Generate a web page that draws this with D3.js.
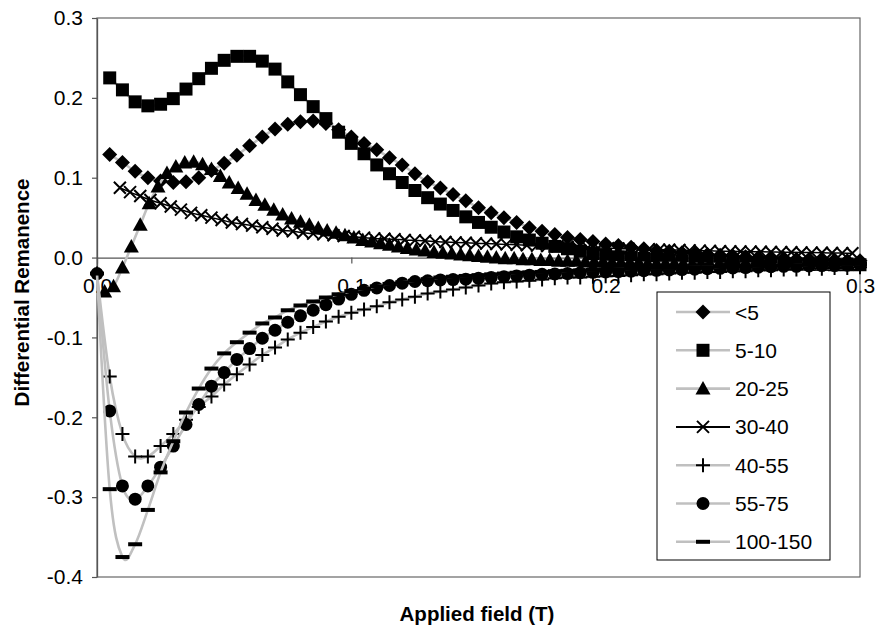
<!DOCTYPE html>
<html>
<head>
<meta charset="UTF-8">
<title>Differential Remanence</title>
<script src="https://d3js.org/d3.v7.min.js"></script>
<style>
  * { margin: 0; padding: 0; box-sizing: border-box; }
  body { background: #fff; font-family: "Liberation Sans", Arial, sans-serif; }
  svg text { font-family: "Liberation Sans", Arial, sans-serif; fill: #000; }
</style>
</head>
<body>
<div id="chart"></div>
<script>
// legend / series names
const seriesNames = ["<5", "5-10", "20-25", "30-40", "40-55", "55-75", "100-150"];

// applied field values (T)
const fieldA = [0,0.005,0.01,0.015,0.02,0.025,0.03,0.035,0.04,0.045,0.05,0.055,0.06,0.065,0.07,0.075,0.08,0.085,0.09,0.095,
  0.1,0.105,0.11,0.115,0.12,0.125,0.13,0.135,0.14,0.145,0.15,0.155,0.16,0.165,0.17,0.175,0.18,0.185,0.19,0.195,
  0.2,0.205,0.21,0.215,0.22,0.225,0.23,0.235,0.24,0.245,0.25,0.255,0.26,0.265,0.27,0.275,0.28,0.285,0.29,0.295,0.3];
const fieldB = [0.003,0.0065,0.01,0.0135,0.017,0.0205,0.024,0.0275,0.031,0.0345,0.038,0.0415,0.045,0.0485,0.052,0.0555,
  0.059,0.0625,0.066,0.0695,0.073,0.0765,0.08,0.0835,0.087,0.0905,0.094,0.0975,0.101,0.1045,0.108,0.1115,0.115,0.1185,
  0.122,0.1255,0.129,0.1325,0.136,0.1395,0.143,0.1465,0.15,0.1535,0.157,0.1605,0.164,0.1675,0.171,0.1745,0.178,0.1815,
  0.185,0.1885,0.192,0.1955,0.199,0.2025,0.206,0.2095,0.213,0.2165,0.22,0.2235,0.227,0.2305,0.234,0.2375,0.241,0.2445,
  0.248,0.2515,0.255,0.2585,0.262,0.2655,0.269,0.2725,0.276,0.2795,0.283,0.2865,0.29,0.2935,0.297];
const fieldC = [0.009,0.013,0.017,0.021,0.025,0.029,0.033,0.037,0.041,0.045,0.049,0.053,0.057,0.061,0.065,0.069,0.073,
  0.077,0.081,0.085,0.089,0.093,0.097,0.101,0.105,0.109,0.113,0.117,0.121,0.125,0.129,0.133,0.137,0.141,0.145,0.149,
  0.153,0.157,0.161,0.165,0.169,0.173,0.177,0.181,0.185,0.189,0.193,0.197,0.201,0.205,0.209,0.213,0.217,0.221,0.225,
  0.229,0.233,0.237,0.241,0.245,0.249,0.253,0.257,0.261,0.265,0.269,0.273,0.277,0.281,0.285,0.289,0.293,0.297];

// differential remanence per series
const valsLt5 = [0.129,0.119,0.108,0.100,0.096,0.094,0.095,0.100,0.109,0.118,
  0.128,0.140,0.151,0.161,0.167,0.170,0.171,0.168,0.160,0.151,
  0.143,0.135,0.125,0.116,0.105,0.095,0.087,0.079,0.071,0.0625,
  0.056,0.050,0.044,0.0375,0.033,0.029,0.025,0.0225,0.020,0.017,
  0.015,0.013,0.011,0.009,0.008,0.006,0.005,0.004,0.003,0.002,
  0.001,0.0,0.0,-0.001,-0.002,-0.002,-0.003,-0.003,-0.004,-0.004];
const vals5to10 = [0.225,0.210,0.195,0.190,0.192,0.199,0.211,0.224,0.237,0.247,
  0.252,0.252,0.246,0.236,0.220,0.204,0.189,0.174,0.157,0.143,
  0.130,0.116,0.105,0.094,0.084,0.075,0.067,0.059,0.051,0.044,
  0.038,0.032,0.026,0.022,0.018,0.014,0.011,0.008,0.005,0.003,
  0.001,0.0,-0.001,-0.002,-0.003,-0.004,-0.004,-0.005,-0.005,-0.006,
  -0.006,-0.007,-0.007,-0.007,-0.008,-0.008,-0.008,-0.009,-0.009,-0.009];
const vals20to25 = [-0.0425,-0.036,-0.0125,0.014,0.041,0.068,0.089,0.106,0.114,0.119,
  0.120,0.117,0.111,0.102,0.094,0.087,0.080,0.072,0.066,0.060,
  0.054,0.049,0.045,0.041,0.037,0.034,0.031,0.028,0.025,0.022,
  0.020,0.018,0.016,0.014,0.012,0.010,0.009,0.007,0.006,0.005,
  0.004,0.003,0.002,0.001,0.0,-0.001,-0.001,-0.002,-0.002,-0.003,
  -0.003,-0.004,-0.004,-0.004,-0.005,-0.005,-0.005,-0.006,-0.006,-0.006,
  -0.006,-0.007,-0.007,-0.007,-0.007,-0.007,-0.008,-0.008,-0.008,-0.008,
  -0.008,-0.008,-0.008,-0.008,-0.009,-0.009,-0.009,-0.009,-0.009,-0.009,
  -0.009,-0.009,-0.009,-0.009,-0.009];
const vals30to40 = [0.0875,0.082,0.077,0.072,0.068,0.064,0.060,0.056,0.053,0.050,
  0.047,0.044,0.042,0.040,0.038,0.036,0.034,0.033,0.031,0.030,
  0.029,0.028,0.027,0.026,0.025,0.024,0.0235,0.023,0.022,0.0215,
  0.021,0.020,0.0195,0.019,0.0185,0.018,0.0175,0.017,0.0165,0.016,
  0.0155,0.015,0.0145,0.014,0.0135,0.013,0.0125,0.012,0.0117,0.0114,
  0.011,0.0107,0.0104,0.010,0.0097,0.0094,0.009,0.0087,0.0084,0.008,
  0.0078,0.0076,0.0074,0.0072,0.007,0.0068,0.0066,0.0064,0.0062,0.006,
  0.0058,0.0056,0.0055];
const vals40to55 = [-0.02,-0.149,-0.221,-0.249,-0.249,-0.236,-0.221,-0.203,-0.187,-0.174,-0.159,
  -0.146,-0.134,-0.122,-0.1125,-0.1025,-0.094,-0.087,-0.080,-0.074,-0.069,
  -0.065,-0.061,-0.056,-0.0525,-0.049,-0.045,-0.0425,-0.040,-0.0375,-0.035,
  -0.0325,-0.031,-0.030,-0.029,-0.0275,-0.026,-0.025,-0.025,-0.024,-0.0235,
  -0.023,-0.022,-0.021,-0.021,-0.020,-0.019,-0.019,-0.018,-0.018,-0.017,
  -0.017,-0.016,-0.016,-0.015,-0.015,-0.014,-0.014,-0.013,-0.013,-0.012];
const vals55to75 = [-0.02,-0.192,-0.286,-0.3025,-0.286,-0.2625,-0.236,-0.209,-0.184,-0.161,-0.144,
  -0.1275,-0.114,-0.101,-0.091,-0.081,-0.073,-0.066,-0.059,-0.052,-0.046,
  -0.041,-0.038,-0.035,-0.032,-0.030,-0.029,-0.028,-0.0275,-0.027,-0.026,
  -0.025,-0.024,-0.023,-0.022,-0.021,-0.0205,-0.020,-0.019,-0.0185,-0.018,
  -0.0175,-0.017,-0.0165,-0.016,-0.0155,-0.015,-0.0145,-0.014,-0.0135,-0.013,
  -0.0125,-0.012,-0.0115,-0.011,-0.011,-0.0105,-0.010,-0.010,-0.0095,-0.009];
const vals100to150 = [-0.02,-0.29,-0.375,-0.359,-0.316,-0.269,-0.230,-0.194,-0.164,-0.139,-0.120,
  -0.106,-0.094,-0.0825,-0.075,-0.066,-0.060,-0.055,-0.050,-0.046,-0.042,
  -0.039,-0.036,-0.033,-0.031,-0.029,-0.027,-0.025,-0.024,-0.023,-0.022,
  -0.021,-0.020,-0.019,-0.0185,-0.018,-0.017,-0.0165,-0.016,-0.0155,-0.015,
  -0.0145,-0.014,-0.0135,-0.013,-0.013,-0.0125,-0.012,-0.012,-0.0115,-0.011,
  -0.011,-0.0105,-0.010,-0.010,-0.0095,-0.009,-0.009,-0.0085,-0.008,-0.008];

// axis ticks
const xTicks = [0, 0.1, 0.2, 0.3];
const xTickLabels = ["0.0", "0.1", "0.2", "0.3"];
const yTicks = [0.3, 0.2, 0.1, 0, -0.1, -0.2, -0.3, -0.4];
const yTickLabels = ["0.3", "0.2", "0.1", "0.0", "-0.1", "-0.2", "-0.3", "-0.4"];

function zip(fields, vals) {
  if (fields.length !== vals.length) console.error("length mismatch", fields.length, vals.length);
  return vals.map((v, i) => ({ x: fields[i], y: v }));
}

const series = [
  { name: seriesNames[0], shape: "diamond",  line: "#c0c0c0", data: zip(fieldA.slice(1), valsLt5) },
  { name: seriesNames[1], shape: "square",   line: "#c0c0c0", data: zip(fieldA.slice(1), vals5to10) },
  { name: seriesNames[2], shape: "triangle", line: "#c0c0c0", data: zip(fieldB, vals20to25) },
  { name: seriesNames[3], shape: "cross",    line: "#000",    data: zip(fieldC, vals30to40) },
  { name: seriesNames[4], shape: "plus",     line: "#c0c0c0", data: zip(fieldA, vals40to55) },
  { name: seriesNames[5], shape: "circle",   line: "#c0c0c0", data: zip(fieldA, vals55to75) },
  { name: seriesNames[6], shape: "dash",     line: "#c0c0c0", data: zip(fieldA, vals100to150) }
];

const W = 875, H = 628;
const plot = { left: 97, right: 860, top: 18, bottom: 577 };

const svg = d3.select("#chart").append("svg")
  .attr("width", W).attr("height", H);

const x = d3.scaleLinear().domain([0, 0.3]).range([plot.left, plot.right]);
const y = d3.scaleLinear().domain([-0.4, 0.3]).range([plot.bottom, plot.top]);

// plot area frame
svg.append("rect")
  .attr("x", plot.left).attr("y", plot.top)
  .attr("width", plot.right - plot.left).attr("height", plot.bottom - plot.top)
  .attr("fill", "none").attr("stroke", "#666").attr("stroke-width", 1.2);

// y axis
const yAxis = svg.append("g")
  .attr("transform", `translate(${plot.left},0)`)
  .call(d3.axisLeft(y).tickValues(yTicks).tickSize(5).tickSizeOuter(0).tickPadding(9)
    .tickFormat((d, i) => yTickLabels[i]));
yAxis.selectAll("text").style("font-size", "21px");

// x axis along zero
const xAxis = svg.append("g")
  .attr("transform", `translate(0,${y(0)})`)
  .call(d3.axisBottom(x).tickValues(xTicks).tickSize(6).tickSizeOuter(0).tickPadding(15)
    .tickFormat((d, i) => xTickLabels[i]));
xAxis.selectAll("text").style("font-size", "21px");

[yAxis, xAxis].forEach(a => {
  a.select(".domain").attr("stroke", "#555").attr("stroke-width", 1.3);
  a.selectAll(".tick line").attr("stroke", "#555").attr("stroke-width", 1.2);
});

// axis titles
svg.append("text")
  .attr("transform", `translate(29,${(plot.top + plot.bottom) / 2 - 5}) rotate(-90)`)
  .attr("text-anchor", "middle")
  .style("font-size", "20.5px").style("font-weight", "bold")
  .text("Differential Remanence");

svg.append("text")
  .attr("x", 477).attr("y", 621)
  .attr("text-anchor", "middle")
  .style("font-size", "20.5px").style("font-weight", "bold")
  .text("Applied field (T)");

// marker shapes
const shapes = {
  diamond: "M0,-7.5L7.5,0L0,7.5L-7.5,0Z",
  square: "M-6.5,-6.5H6.5V6.5H-6.5Z",
  triangle: "M0,-7.5L7.5,6L-7.5,6Z",
  circle: d3.symbol(d3.symbolCircle, Math.PI * 6.5 * 6.5)(),
  cross: "M-6,-6L6,6M6,-6L-6,6",
  plus: "M-7,0H7M0,-7V7",
  dash: "M-7,-2H7V2H-7Z"
};
function drawMarker(g, shape) {
  const stroked = shape === "cross" || shape === "plus";
  g.append("path")
    .attr("d", shapes[shape])
    .attr("fill", stroked ? "none" : "#000")
    .attr("stroke", stroked ? "#000" : "none")
    .attr("stroke-width", stroked ? 2 : 0);
}

const line = d3.line()
  .x(d => x(d.x))
  .y(d => y(d.y))
  .curve(d3.curveCardinal.tension(0));

series.forEach(s => {
  const g = svg.append("g");
  g.append("path")
    .datum(s.data)
    .attr("fill", "none")
    .attr("stroke", s.line)
    .attr("stroke-width", s.shape === "cross" ? 1.5 : 2.6)
    .attr("d", line);
  g.selectAll("g.pt")
    .data(s.data)
    .join("g")
    .attr("class", "pt")
    .attr("transform", d => `translate(${x(d.x)},${y(d.y)})`)
    .each(function () { drawMarker(d3.select(this), s.shape); });
});

// legend
const legend = svg.append("g");
legend.append("rect")
  .attr("x", 657).attr("y", 292).attr("width", 173).attr("height", 268)
  .attr("fill", "#fff").attr("stroke", "#000").attr("stroke-width", 1);

series.forEach((s, i) => {
  const row = legend.append("g").attr("transform", `translate(0,${312 + i * 38.3})`);
  row.append("line")
    .attr("x1", 676).attr("x2", 730)
    .attr("stroke", s.line).attr("stroke-width", s.shape === "cross" ? 2 : 2.6);
  const m = row.append("g").attr("transform", "translate(703,0)");
  drawMarker(m, s.shape);
  row.append("text")
    .attr("x", 735).attr("y", 7.5)
    .style("font-size", "21px")
    .text(s.name);
});
</script>
</body>
</html>
